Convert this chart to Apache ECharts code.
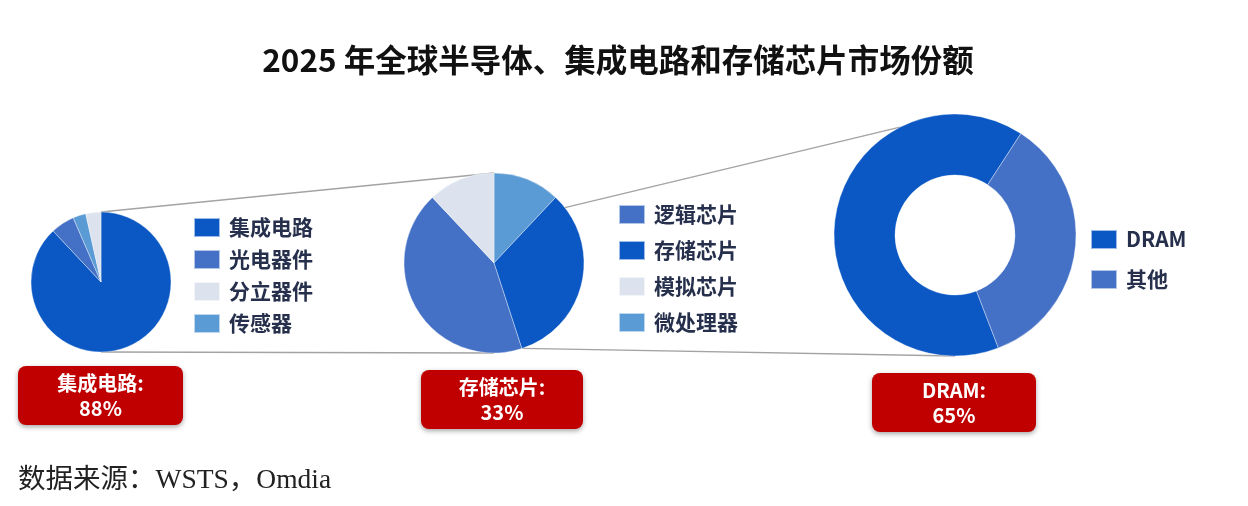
<!DOCTYPE html>
<html><head><meta charset="utf-8">
<script src="https://cdn.jsdelivr.net/npm/echarts@6/dist/echarts.min.js"></script>
<style>html,body{margin:0;padding:0;background:#fff}#c{width:1248px;height:506px}</style>
</head><body><div id="c"></div>
<script>
// ---- data ----
const titleText = '2025 年全球半导体、集成电路和存储芯片市场份额';
const sourceText = '数据来源：WSTS，Omdia';
const semiNames = ['集成电路', '光电器件', '传感器', '分立器件'];
const semiValues = [88, 5.5, 3, 3.5];
const semiLegend = ['集成电路', '光电器件', '分立器件', '传感器'];
const icNames = ['微处理器', '存储芯片', '逻辑芯片', '模拟芯片'];
const icValues = [12, 33, 43, 12];
const icLegend = ['逻辑芯片', '存储芯片', '模拟芯片', '微处理器'];
const memNames = ['DRAM', '其他'];
const memValues = [65, 35];
const memLegend = ['DRAM', '其他'];
const highlights = [['集成电路', semiNames, semiValues], ['存储芯片', icNames, icValues], ['DRAM', memNames, memValues]];

// ---- style ----
const DARK = '#0B58C4', MED = '#4471C6', GRAY = '#DCE3EE', LIGHT = '#5B9BD5';
const colorOf = {
  '集成电路': DARK, '光电器件': MED, '分立器件': GRAY, '传感器': LIGHT,
  '逻辑芯片': MED, '存储芯片': DARK, '模拟芯片': GRAY, '微处理器': LIGHT,
  'DRAM': DARK, '其他': MED
};
const P1 = { c: [101, 282], r: 70 };
const P2 = { c: [494, 263], r: 90 };
const P3 = { c: [955, 235], r: 121, ri: 60 };
const FONT = "'Noto Sans CJK SC', 'Noto Sans', sans-serif";

function pt(P, r, deg) {
  const a = deg * Math.PI / 180;
  return [P.c[0] + r * Math.sin(a), P.c[1] - r * Math.cos(a)];
}
function mk(names, values) {
  return names.map((n, i) => ({ name: n, value: values[i], itemStyle: { color: colorOf[n] } }));
}
function legend(data, left, top, gap) {
  return {
    data: data, orient: 'vertical', left: left, top: top, itemGap: gap, padding: 0,
    icon: 'rect', itemWidth: 26, itemHeight: 19, selectedMode: false,
    textStyle: { fontSize: 21, fontWeight: 'bold', color: '#26304c', fontFamily: FONT, padding: [0, 0, 0, 4] }
  };
}
const connectors = [
  [pt(P1, P1.r, 0), pt(P2, P2.r, 0)],
  [pt(P1, P1.r, 180), pt(P2, P2.r, 180)],
  [pt(P2, P2.r, 52), pt(P3, P3.r, 333)],
  [pt(P2, P2.r, 161.6), pt(P3, P3.r, 180)]
];
const boxes = [[18, 366, 165, 59], [421, 370, 162, 59], [872, 373, 164, 59]];

const graphics = [];
connectors.forEach(([a, b]) => graphics.push({
  type: 'line', z: 0, shape: { x1: a[0], y1: a[1], x2: b[0], y2: b[1] },
  style: { stroke: '#a3a3a3', lineWidth: 1.3 }
}));
highlights.forEach(([name, names, values], i) => {
  const [x, y, w, h] = boxes[i];
  const v = values[names.indexOf(name)];
  graphics.push({
    type: 'rect', z: 5, shape: { x: x, y: y, width: w, height: h, r: 8 },
    style: { fill: '#C00000', shadowBlur: 5, shadowColor: 'rgba(0,0,0,0.35)', shadowOffsetY: 2 }
  });
  graphics.push({
    type: 'text', z: 6, x: x + w / 2, y: y + h / 2,
    style: { text: name + ':\n' + v + '%', fill: '#fff', fontSize: 20, fontWeight: 'bold', fontFamily: FONT,
      align: 'center', verticalAlign: 'middle', lineHeight: 25 }
  });
});
graphics.push({
  type: 'text', z: 6, x: 18, y: 481,
  style: { text: sourceText, fill: '#222', fontSize: 27.5, fontFamily: "'Liberation Serif', 'Noto Sans CJK SC', serif",
    verticalAlign: 'middle' }
});
graphics.push({
  type: 'text', z: 6, x: 618, y: 60,
  style: { text: titleText, fill: '#111', fontSize: 31.5, fontWeight: 'bold', fontFamily: FONT,
    align: 'center', verticalAlign: 'middle' }
});

const chart = echarts.init(document.getElementById('c'), null, { renderer: 'canvas' });
chart.setOption({
  backgroundColor: '#fff',
  animation: false,
  legend: [
    legend(semiLegend, 193, 217, 11),
    legend(icLegend, 618, 204, 15),
    legend(memLegend, 1090, 229, 19)
  ],
  series: [
    { type: 'pie', center: P1.c, radius: P1.r, startAngle: 90, data: mk(semiNames, semiValues),
      label: { show: false }, labelLine: { show: false }, silent: true,
      itemStyle: { borderColor: 'rgba(255,255,255,0.6)', borderWidth: 0.6 } },
    { type: 'pie', center: P2.c, radius: P2.r, startAngle: 90, data: mk(icNames, icValues),
      label: { show: false }, labelLine: { show: false }, silent: true,
      itemStyle: { borderColor: 'rgba(255,255,255,0.6)', borderWidth: 0.6 } },
    { type: 'pie', center: P3.c, radius: [P3.ri, P3.r], startAngle: 291, data: mk(memNames, memValues),
      label: { show: false }, labelLine: { show: false }, silent: true,
      itemStyle: { borderColor: 'rgba(255,255,255,0.6)', borderWidth: 0.6 } }
  ],
  graphic: graphics
});
</script></body></html>
